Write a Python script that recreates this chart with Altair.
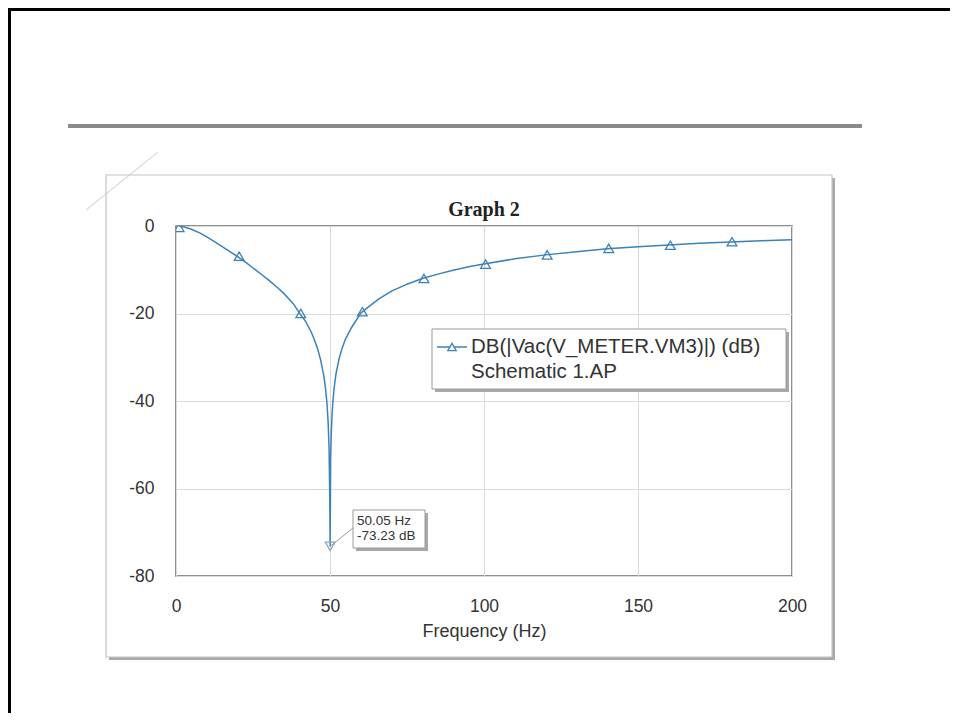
import altair as alt
import pandas as pd

# ---------------- data ----------------
freq_hz = [1, 3, 5, 8, 10, 13, 15, 18, 20, 23, 25, 28, 30, 33, 35, 38, 40, 42, 44, 45,
           46, 47, 48, 48.5, 49, 49.4, 49.7, 49.9, 50.05, 50.2, 50.4, 50.7, 51, 51.5, 52,
           53, 54, 55, 57, 60, 63, 66, 70, 75, 80, 85, 90, 95, 100, 110, 120, 130, 140,
           150, 160, 170, 180, 190, 200]
gain_db = [-0.03, -0.28, -0.74, -1.7, -2.5, -3.8, -4.7, -6.1, -7.0, -8.5, -9.6, -11.2, -12.3,
           -14.1, -15.4, -17.7, -19.8, -21.7, -24.4, -26.1, -28.1, -30.7, -34.3, -36.9, -40.4,
           -44.9, -51.0, -60.5, -73.23, -53.5, -47.5, -42.7, -39.6, -36.1, -33.6, -30.2, -27.8,
           -25.9, -23.2, -19.9, -18.2, -16.6, -14.9, -13.3, -12.0, -11.0, -10.1, -9.3, -8.7,
           -7.5, -6.6, -5.9, -5.2, -4.75, -4.35, -3.95, -3.65, -3.35, -3.15]

marker_freq = [1, 20.5, 40.5, 60.5, 80.5, 100.5, 120.5, 140.5, 160.5, 180.5]
marker_db = [-0.3, -6.9, -20.0, -19.6, -12.0, -8.7, -6.6, -5.1, -4.4, -3.6]

cursor_freq = [50.05]
cursor_db = [-73.23]

x_ticks = [0, 50, 100, 150, 200]
y_ticks = [0, -20, -40, -60, -80]

title_text = "Graph 2"
x_title = "Frequency (Hz)"
legend_lines = ["DB(|Vac(V_METER.VM3)|) (dB)", "Schematic 1.AP"]
cursor_lines = ["50.05 Hz", "-73.23 dB"]

# ---------------- styling ----------------
W, H = 616, 350
FONT = "Liberation Sans"
BLUE = "#3b82b8"
TXT = "#333333"

curve = pd.DataFrame({"f": freq_hz, "db": gain_db})
marks = pd.DataFrame({"f": marker_freq, "db": marker_db})
cursor = pd.DataFrame({"f": cursor_freq, "db": cursor_db})
one = pd.DataFrame({"k": [0]})

x_enc = alt.X("f:Q",
              scale=alt.Scale(domain=[0, 200], nice=False, zero=False),
              axis=alt.Axis(values=x_ticks, title=x_title, grid=True, labelPadding=21,
                            titlePadding=8, titleFontSize=18, titleFontWeight="normal",
                            titleFont=FONT, titleColor=TXT, labelFlush=False,
                            labelExpr="'' + datum.value"))
y_enc = alt.Y("db:Q",
              scale=alt.Scale(domain=[-80, 0], nice=False, zero=False),
              axis=alt.Axis(values=y_ticks, title=None, grid=True, labelPadding=22,
                            labelExpr="'' + datum.value"))


def rect(x1, y1, x2, y2, fill=None, stroke=None, sw=1):
    kw = {}
    if fill is not None:
        kw["fill"] = fill
    else:
        kw["fillOpacity"] = 0
    if stroke is not None:
        kw["stroke"] = stroke
        kw["strokeWidth"] = sw
    return alt.Chart(one).mark_rect(**kw).encode(
        x=alt.value(x1), x2=alt.value(x2), y=alt.value(y1), y2=alt.value(y2))


def rule(x1, y1, x2, y2, color, sw):
    return alt.Chart(one).mark_rule(color=color, strokeWidth=sw).encode(
        x=alt.value(x1), x2=alt.value(x2), y=alt.value(y1), y2=alt.value(y2))


def text(x, y, s, size, align="left", font=FONT, weight="normal", color=TXT, baseline="middle"):
    return alt.Chart(one).mark_text(align=align, baseline=baseline, font=font, fontSize=size,
                                    fontWeight=weight, color=color).encode(
        x=alt.value(x), y=alt.value(y), text=alt.value(s))


# page decorations (coordinates relative to the plot area)
black_left = rule(-166.5, -218, -166.5, 487, "#000000", 3)
black_top = rule(-168, -216.5, 774, -216.5, "#000000", 3)
gray_bar = rule(-108, -100, 686, -100, "#8a8a8a", 4)
diag = rule(-90, -16, -18, -74, "#dcdcdc", 1.2)
frame_sh_r = rect(656, -48, 659, 434, fill="#a9a9a9")
frame_sh_b = rect(-67, 431, 659, 434, fill="#a9a9a9")
frame = rect(-70, -51, 656, 431, stroke="#c4c4c4", sw=1.2)

title = text(308, -10.5, title_text, 20, align="center", font="Liberation Serif",
             weight="bold", color="#222222", baseline="alphabetic")

# data layers
line = alt.Chart(curve).mark_line(color=BLUE, strokeWidth=1.5, clip=True).encode(
    x=x_enc, y=y_enc, order="f:Q")
pts = alt.Chart(marks).mark_point(shape="triangle-up", size=95, filled=False, color=BLUE,
                                  strokeWidth=1.3, clip=True, opacity=1).encode(x=x_enc, y=y_enc)
cur_tri = alt.Chart(cursor).mark_point(shape="triangle-down", size=95, filled=False,
                                       color="#86a6bf", strokeWidth=1.2, opacity=1).encode(
    x=x_enc, y=y_enc)
leader = alt.Chart(cursor).mark_rule(color="#9a9a9a", strokeWidth=1).encode(
    x=x_enc, y=y_enc, x2=alt.value(177), y2=alt.value(302))

# legend box
leg_sh = rect(259, 106, 613, 166, fill="#a8a8a8")
leg_box = rect(256, 103, 610, 163, fill="#ffffff", stroke="#9a9a9a", sw=1)
leg_rule = rule(261, 121, 291, 121, BLUE, 1.5)
leg_tri = alt.Chart(one).mark_point(shape="triangle-up", size=70, filled=True, fill="#ffffff",
                                    color=BLUE, stroke=BLUE, strokeWidth=1.3, opacity=1).encode(
    x=alt.value(276), y=alt.value(121))
leg_t1 = text(295, 121, legend_lines[0], 20.5)
leg_t2 = text(295, 146, legend_lines[1], 20.5)

# cursor box
cur_sh = rect(180, 287, 252, 325, fill="#a8a8a8")
cur_box = rect(177, 284, 249, 322, fill="#ffffff", stroke="#9a9a9a", sw=1)
cur_t1 = text(181, 294.5, cursor_lines[0], 13.5)
cur_t2 = text(181, 310, cursor_lines[1], 13.5)

chart = alt.layer(
    black_left, black_top, gray_bar, diag, frame_sh_r, frame_sh_b, frame, title,
    line, pts, cur_tri, leader,
    leg_sh, leg_box, leg_rule, leg_tri, leg_t1, leg_t2,
    cur_sh, cur_box, cur_t1, cur_t2,
).properties(
    width=W, height=H,
    autosize=alt.AutoSizeParams(type="none"),
    padding={"left": 168, "top": 218, "right": 158, "bottom": 137},
    background="#ffffff",
).configure_view(
    stroke="#6b6b6b", strokeWidth=1.5,
).configure_axis(
    labelFont=FONT, labelFontSize=17.5, labelColor=TXT,
    gridColor="#dadada", gridWidth=1,
    domain=False, ticks=False, tickSize=0,
)

chart.save("out.html", embed_options={"renderer": "svg", "actions": False})
